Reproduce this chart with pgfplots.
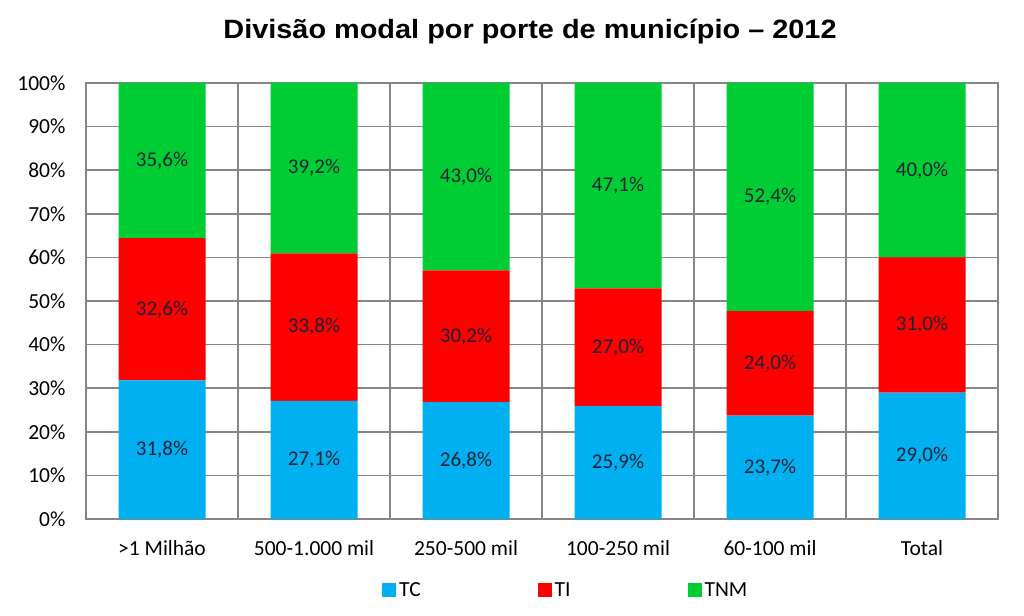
\documentclass[border=0pt]{standalone}
\usepackage{pgfplots}
\pgfplotsset{compat=1.18}
\usepackage{fontspec}
\setmainfont{Carlito}
\newfontfamily\titlefont{Liberation Sans}
\definecolor{cTC}{RGB}{0,176,240}
\definecolor{cTI}{RGB}{255,0,0}
\definecolor{cTNM}{RGB}{0,204,51}
\definecolor{gridc}{RGB}{134,134,134}
\definecolor{labc}{RGB}{25,35,55}
\pgfplotsset{sq legend/.style={legend image code/.code={\fill[##1] (0bp,-7bp) rectangle (14bp,7bp);}}}
\begin{document}
\begin{tikzpicture}
\path[use as bounding box] (0,0) rectangle (1024bp,616bp);
\node[font=\titlefont\bfseries\fontsize{26.5bp}{30bp}\selectfont] at (530bp,584bp) {\scalebox{1.09}[1]{Divisão modal por porte de município – 2012}};
\begin{axis}[
 at={(86bp,97bp)}, anchor=south west,
 width=912bp, height=436bp, scale only axis,
 ybar stacked, bar width=87bp,
 xmin=-0.5, xmax=5.5, ymin=0, ymax=100,
 clip=false,
 xtick={0,...,5},
 xticklabels={{>1 Milhão},{500-1.000 mil},{250-500 mil},{100-250 mil},{60-100 mil},{Total}},
 minor xtick={0.5,1.5,...,4.5},
 xminorgrids, ymajorgrids,
 ytick={0,10,...,100},
 yticklabel={\pgfmathprintnumber{\tick}\%},
 /pgf/number format/assume math mode=true,
 major tick length=0, minor tick length=0,
 axis line style={gridc, line width=1.5bp},
 grid style={gridc, line width=1.5bp},
 minor grid style={gridc, line width=1.5bp},
 ticklabel style={font=\fontsize{21.5bp}{25bp}\selectfont, text=black},
 xticklabel style={yshift=-18bp},
 yticklabel style={xshift=-17bp},
 point meta=explicit symbolic,
 nodes near coords={\pgfplotspointmeta\%},
 every node near coord/.append style={anchor=center, font=\fontsize{21bp}{25bp}\selectfont, text=labc},
 legend columns=3,
 legend style={draw=none, at={(0.3246,-0.1628)}, anchor=west, inner sep=0pt,
   nodes={inner xsep=3bp, inner ysep=2bp}, font=\fontsize{21.5bp}{25bp}\selectfont,
   /tikz/every even column/.append style={column sep=114bp}},
]
\addplot[fill=cTC, draw=none, sq legend] table[x=x, y=y, meta=l] {
x y l
0 31.8 31,8
1 27.1 27,1
2 26.8 26,8
3 25.9 25,9
4 23.7 23,7
5 29.0 29,0
};
\addplot[fill=cTI, draw=none, sq legend] table[x=x, y=y, meta=l] {
x y l
0 32.6 32,6
1 33.8 33,8
2 30.2 30,2
3 27.0 27,0
4 24.0 24,0
5 31.0 31,0
};
\addplot[fill=cTNM, draw=none, sq legend] table[x=x, y=y, meta=l] {
x y l
0 35.6 35,6
1 39.2 39,2
2 43.0 43,0
3 47.1 47,1
4 52.4 52,4
5 40.0 40,0
};
\legend{TC, TI, TNM}
\end{axis}
\end{tikzpicture}
\end{document}
